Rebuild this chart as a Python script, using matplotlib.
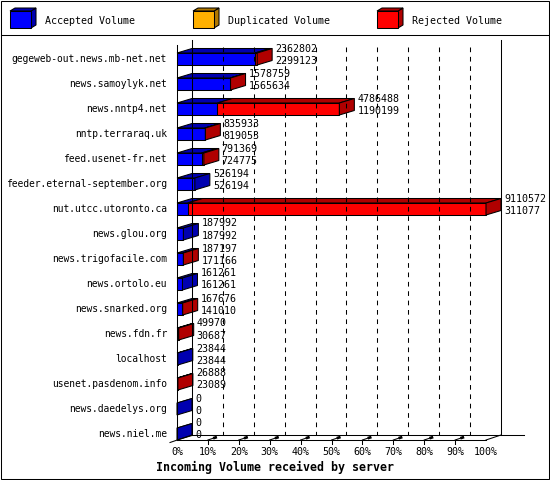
import matplotlib
matplotlib.use("Agg")
import matplotlib.pyplot as plt
from matplotlib.patches import Polygon, Rectangle

servers = ["gegeweb-out.news.mb-net.net", "news.samoylyk.net", "news.nntp4.net",
           "nntp.terraraq.uk", "feed.usenet-fr.net", "feeder.eternal-september.org",
           "nut.utcc.utoronto.ca", "news.glou.org", "news.trigofacile.com",
           "news.ortolo.eu", "news.snarked.org", "news.fdn.fr", "localhost",
           "usenet.pasdenom.info", "news.daedelys.org", "news.niel.me"]
total = [2362802, 1578759, 4786488, 835933, 791369, 526194, 9110572, 187992,
         187197, 161261, 167676, 49970, 23844, 26888, 0, 0]
accepted = [2299123, 1565634, 1190199, 819053, 724775, 526194, 311077, 187992,
            171166, 161261, 141010, 30687, 23844, 23089, 0, 0]
duplicated = [0, 0, 0, 0, 0, 0, 0, 0, 0, 0, 0, 0, 0, 0, 0, 0]
legend_labels = ["Accepted Volume", "Duplicated Volume", "Rejected Volume"]
tick_labels = ["0%", "10%", "20%", "30%", "40%", "50%", "60%", "70%", "80%", "90%", "100%"]
title = "Incoming Volume received by server"

FRONT = ["#0000FF", "#FFB000", "#FF0000"]
DARK = ["#0000B0", "#B07800", "#B00000"]
MONO = "DejaVu Sans Mono"
LW = 0.75

W, H = 550, 480
fig = plt.figure(figsize=(W / 100, H / 100), dpi=100)
fig.patch.set_facecolor("white")

# background / frame axes in pixel units
bg = fig.add_axes([0, 0, 1, 1])
bg.set_xlim(0, W)
bg.set_ylim(H, 0)
bg.axis("off")
bg.add_patch(Rectangle((0.5, 0.5), 548, 478, fill=False, ec="black", lw=LW))
bg.plot([0.5, 548.5], [35, 35], color="black", lw=LW)

# legend
leg_x = [10, 193, 377]
for k, lab in enumerate(legend_labels):
    x0 = leg_x[k]
    x1, y0, y1 = x0 + 21, 11, 28
    d, e = 5, 3
    bg.add_patch(Polygon([(x1, y0), (x1, y1), (x1 + d, y1 - e), (x1 + d, y0 - e)],
                         closed=True, fc=DARK[k], ec="black", lw=LW))
    bg.add_patch(Polygon([(x0, y0), (x1, y0), (x1 + d, y0 - e), (x0 + d, y0 - e)],
                         closed=True, fc=DARK[k], ec="black", lw=LW))
    bg.add_patch(Rectangle((x0, y0), x1 - x0, y1 - y0, fc=FRONT[k], ec="black", lw=LW))
    bg.text(x0 + 35, 20.5, lab, fontsize=7.2, family=MONO, ha="left", va="center")

bg.text(156, 467, title, fontsize=8.4, family=MONO, weight="bold", ha="left", va="center")

# chart axes: front plane, x in volume units, y in row index
XMAX = max(total)
PX_L, PX_R, PX_T, PX_B = 177, 486, 45, 440
ROW0, ROWSTEP = 59.0, 25.0
ax = fig.add_axes([PX_L / W, (H - PX_B) / H, (PX_R - PX_L) / W, (PX_B - PX_T) / H])
ax.set_xlim(0, XMAX)
ax.set_ylim((PX_B - ROW0) / ROWSTEP, (PX_T - ROW0) / ROWSTEP)
ax.axis("off")

def px(n):
    return n / (PX_R - PX_L) * XMAX

def py(n):
    return n / ROWSTEP

DX, DY = px(15), py(5)
BDY = py(4.5)
HH = py(6)
floor = ax.get_ylim()[0]
top_front = ax.get_ylim()[1]

kw = dict(clip_on=False, color="black", lw=LW)
# walls and floor
ax.plot([0, 0], [top_front, floor], **kw)
ax.plot([DX, DX], [top_front - DY, floor - DY], **kw)
ax.plot([XMAX + DX, XMAX + DX], [top_front - DY, floor - DY], **kw)
ax.plot([0, XMAX], [floor, floor], **kw)
ax.plot([DX, XMAX + DX + px(23)], [floor - DY, floor - DY], **kw)
ax.plot([-px(7), DX], [floor + py(2.5), floor - DY], **kw)
ax.plot([XMAX, XMAX + DX], [floor, floor - DY], **kw)

for k in range(1, 10):
    xb = DX + XMAX * k / 10
    ax.plot([xb, xb], [top_front - DY + py(7), floor - DY], color="black", lw=LW,
            ls=(0, (4.5, 4.5)), clip_on=False)
for k in range(0, 11):
    xf = XMAX * k / 10
    if 0 < k < 10:
        ax.plot([xf, xf], [floor, floor + py(4)], **kw)
        ax.plot([xf, xf + DX * 0.55], [floor, floor - DY * 0.55], **kw)
        ax.plot([xf + DX * 0.35, xf + DX * 0.6], [floor - DY * 0.35, floor - DY * 0.6],
                color="black", lw=2.0, clip_on=False, solid_capstyle="butt")
    ax.text(xf, floor + py(12), tick_labels[k], fontsize=7.2, family=MONO,
            ha="center", va="center", clip_on=False)

# bars
for i, name in enumerate(servers):
    c = i
    a = accepted[i]
    d = duplicated[i]
    t = total[i]
    segs = [(0, a, 0), (a, a + d, 1), (a + d, t, 2)]
    yt, yb = c - HH, c + HH
    last = 0
    for s0, s1, col in segs:
        if s1 > s0 or (t == 0 and col == 0):
            ax.add_patch(Polygon([(s0, yt), (s1, yt), (s1 + DX, yt - BDY), (s0 + DX, yt - BDY)],
                                 closed=True, fc=DARK[col], ec="black", lw=LW, clip_on=False))
            ax.add_patch(Rectangle((s0, yt), s1 - s0, yb - yt, fc=FRONT[col], ec="black",
                                   lw=LW, clip_on=False))
            if s1 > s0:
                last = col
    ax.add_patch(Polygon([(t, yt), (t, yb), (t + DX, yb - BDY), (t + DX, yt - BDY)],
                         closed=True, fc=DARK[last], ec="black", lw=LW, clip_on=False))
    xl = t + DX + px(3)
    ax.text(xl, c - BDY - py(6), str(t), fontsize=7.2, family=MONO, ha="left",
            va="center", clip_on=False)
    ax.text(xl, c - BDY + py(6), str(a), fontsize=7.2, family=MONO, ha="left",
            va="center", clip_on=False)
    ax.text(-px(10), c, name, fontsize=6.95, family=MONO, ha="right", va="center",
            clip_on=False)

fig.savefig("out.png", dpi=100, facecolor="white")
